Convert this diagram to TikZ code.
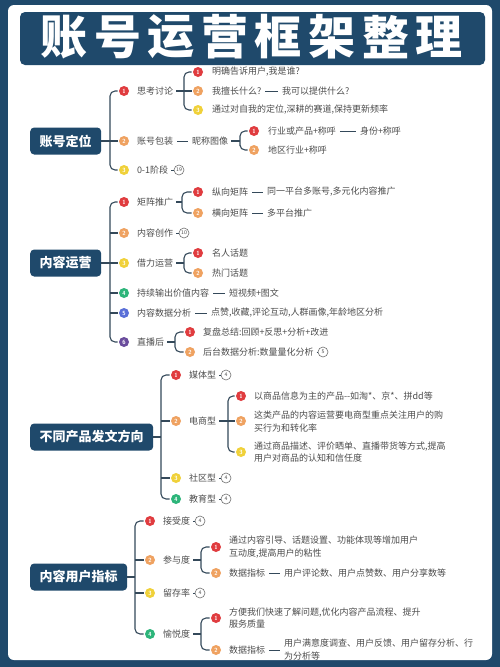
\documentclass[tikz,border=0pt]{standalone}
\usepackage{fontspec}
\newfontfamily\cjk{Noto Sans CJK SC}

\definecolor{navy}{HTML}{1F496B}
\definecolor{linec}{HTML}{34495A}
\definecolor{txt}{HTML}{4D4D4D}
\definecolor{cRed}{HTML}{E03C3F}
\definecolor{cOrg}{HTML}{EFA261}
\definecolor{cYel}{HTML}{F0D13A}
\definecolor{cGrn}{HTML}{2DB57A}
\definecolor{cBlu}{HTML}{5A6FD8}
\definecolor{cPur}{HTML}{6A4C9C}

\tikzset{
    titlech/.style={text=white, font=\cjk\bfseries\fontsize{47}{47}\selectfont, inner sep=0pt},
    mainbox/.style={anchor=west, fill=navy, rounded corners=4pt, text=white,
        font=\cjk\bfseries\fontsize{13}{15}\selectfont, minimum height=27pt, inner xsep=9.5pt},
    item/.style={anchor=west, inner sep=0pt, outer sep=0pt, text=txt,
        font=\cjk\fontsize{9}{12.5}\selectfont, align=left},
    badge/.style={circle, fill=#1, minimum size=10pt, inner sep=0pt, outer sep=1.5pt,
        text=white, font=\sffamily\bfseries\fontsize{6}{6}\selectfont},
    cnum/.style={circle, draw=txt!80, fill=white, line width=0.6pt, minimum size=10pt, inner sep=0pt,
        text=txt, font=\sffamily\fontsize{5.5}{5.5}\selectfont},
    link/.style={draw=linec, line width=1.1pt, rounded corners=5pt},
    dashlink/.style={draw=linec, line width=1pt, shorten <=4pt, shorten >=4pt},
    tie/.style={draw=linec, line width=0.9pt, shorten <=3pt}
}

\begin{document}
\begin{tikzpicture}[x=1pt, y=-1pt]
    \useasboundingbox (0,0) rectangle (500,667);

    % Background and panel
    \fill[navy] (0,0) rectangle (500,667);
    \fill[white, rounded corners=6pt] (8,5) rectangle (492,660);

    % Title
    \fill[navy, rounded corners=5pt] (20,12) rectangle (485,65);
    \foreach \c [count=\i] in {账,号,运,营,框,架,整,理} {
        \node[titlech] (title\i) at ({64+(\i-1)*53.6},37) {\c};
    }

    % ---------------- 账号定位 ----------------
    \node[mainbox] (pos) at (30,141) {账号定位};
    \coordinate (pos-t) at (110,141);
    \node[badge=cRed] (pos1) at (124,91) {1};
    \node[badge=cOrg] (pos2) at (124,141) {2};
    \node[badge=cYel] (pos3) at (124,170) {3};
    \draw[link] (pos1.west) -| (pos-t) |- (pos3.west);
    \draw[link] (pos.east) -- (pos-t) -- (pos2.west);

    \node[item] (think) at (137,91) {思考讨论};
    \node[item] (pack) at (137,141) {账号包装};
    \node[item] (stage) at (137,170) {0-1阶段};
    \node[cnum] (stage-n) at (179,170) {19};
    \draw[tie] (stage) -- (stage-n);

    % 思考讨论
    \coordinate (think-t) at (184,91);
    \node[badge=cRed] (think1) at (198,72) {1};
    \node[badge=cOrg] (think2) at (198,91) {2};
    \node[badge=cYel] (think3) at (198,110) {3};
    \draw[link] (think1.west) -| (think-t) |- (think3.west);
    \draw[link, shorten <=3pt] (think.east) -- (think2.west);
    \node[item] (think1a) at (212,72) {明确告诉用户,我是谁?};
    \node[item] (think2a) at (212,91) {我擅长什么?};
    \node[item] (think2b) at (282,91) {我可以提供什么?};
    \draw[dashlink] (think2a) -- (think2b);
    \node[item] (think3a) at (212,110) {通过对自我的定位,深耕的赛道,保持更新频率};

    % 账号包装
    \node[item] (avatar) at (192,141) {昵称图像};
    \draw[dashlink] (pack) -- (avatar);
    \coordinate (avatar-t) at (240,141);
    \node[badge=cRed] (avatar1) at (254,131) {1};
    \node[badge=cOrg] (avatar2) at (254,150) {2};
    \draw[link] (avatar1.west) -| (avatar-t) |- (avatar2.west);
    \draw[link, shorten <=3pt] (avatar.east) -- (avatar-t);
    \node[item] (avatar1a) at (268,131) {行业或产品+称呼};
    \node[item] (avatar1b) at (360,131) {身份+称呼};
    \draw[dashlink] (avatar1a) -- (avatar1b);
    \node[item] (avatar2a) at (268,150) {地区行业+称呼};

    % ---------------- 内容运营 ----------------
    \node[mainbox] (op) at (30,263) {内容运营};
    \coordinate (op-t) at (110,263);
    \node[badge=cRed] (op1) at (124,202) {1};
    \node[badge=cOrg] (op2) at (124,233) {2};
    \node[badge=cYel] (op3) at (124,263) {3};
    \node[badge=cGrn] (op4) at (124,293) {4};
    \node[badge=cBlu] (op5) at (124,313) {5};
    \node[badge=cPur] (op6) at (124,342) {6};
    \draw[link] (op1.west) -| (op-t) |- (op6.west);
    \draw[link] (op.east) -- (op-t) -- (op3.west);
    \foreach \k in {2,4,5} {
        \draw[link] (op-t |- op\k.west) -- (op\k.west);
    }

    \node[item] (matrix) at (137,202) {矩阵推广};
    \node[item] (create) at (137,233) {内容创作};
    \node[cnum] (create-n) at (184,233) {10};
    \draw[tie] (create) -- (create-n);
    \node[item] (borrow) at (137,263) {借力运营};
    \node[item] (value) at (137,293) {持续输出价值内容};
    \node[item] (value-a) at (229,293) {短视频+图文};
    \draw[dashlink] (value) -- (value-a);
    \node[item] (data) at (137,313) {内容数据分析};
    \node[item] (data-a) at (211,313) {点赞,收藏,评论互动,人群画像,年龄地区分析};
    \draw[dashlink] (data) -- (data-a);
    \node[item] (live) at (137,342) {直播后};

    % 矩阵推广
    \coordinate (matrix-t) at (182,202);
    \node[badge=cRed] (matrix1) at (198,192) {1};
    \node[badge=cOrg] (matrix2) at (198,213) {2};
    \draw[link] (matrix1.west) -| (matrix-t) |- (matrix2.west);
    \draw[link, shorten <=3pt] (matrix.east) -- (matrix-t);
    \node[item] (matrix1a) at (212,192) {纵向矩阵};
    \node[item] (matrix1b) at (267,192) {同一平台多账号,多元化内容推广};
    \draw[dashlink] (matrix1a) -- (matrix1b);
    \node[item] (matrix2a) at (212,213) {横向矩阵};
    \node[item] (matrix2b) at (267,213) {多平台推广};
    \draw[dashlink] (matrix2a) -- (matrix2b);

    % 借力运营
    \coordinate (borrow-t) at (184,263);
    \node[badge=cRed] (borrow1) at (198,253) {1};
    \node[badge=cOrg] (borrow2) at (198,273) {2};
    \draw[link] (borrow1.west) -| (borrow-t) |- (borrow2.west);
    \draw[link, shorten <=3pt] (borrow.east) -- (borrow-t);
    \node[item] (borrow1a) at (212,253) {名人话题};
    \node[item] (borrow2a) at (212,273) {热门话题};

    % 直播后
    \coordinate (live-t) at (175,342);
    \node[badge=cRed] (live1) at (190,332) {1};
    \node[badge=cOrg] (live2) at (190,352) {2};
    \draw[link] (live1.west) -| (live-t) |- (live2.west);
    \draw[link, shorten <=3pt] (live.east) -- (live-t);
    \node[item] (live1a) at (203,332) {复盘总结:回顾+反思+分析+改进};
    \node[item] (live2a) at (203,352) {后台数据分析:数量量化分析};
    \node[cnum] (live2-n) at (323,352) {5};
    \draw[tie] (live2a) -- (live2-n);

    % ---------------- 不同产品发文方向 ----------------
    \node[mainbox] (dir) at (30,437) {不同产品发文方向};
    \coordinate (dir-t) at (161,437);
    \node[badge=cRed] (dir1) at (176,375) {1};
    \node[badge=cOrg] (dir2) at (176,421) {2};
    \node[badge=cYel] (dir3) at (176,478) {3};
    \node[badge=cGrn] (dir4) at (176,499) {4};
    \draw[link] (dir1.west) -| (dir-t) |- (dir4.west);
    \draw[link] (dir.east) -- (dir-t);
    \foreach \k in {2,3} {
        \draw[link] (dir-t |- dir\k.west) -- (dir\k.west);
    }

    \node[item] (media) at (189,375) {媒体型};
    \node[cnum] (media-n) at (226,375) {4};
    \draw[tie] (media) -- (media-n);
    \node[item] (ecom) at (189,421) {电商型};
    \node[item] (social) at (189,478) {社区型};
    \node[cnum] (social-n) at (226,478) {4};
    \draw[tie] (social) -- (social-n);
    \node[item] (edu) at (189,499) {教育型};
    \node[cnum] (edu-n) at (226,499) {4};
    \draw[tie] (edu) -- (edu-n);

    % 电商型
    \coordinate (ecom-t) at (228,421);
    \node[badge=cRed] (ecom1) at (241,396) {1};
    \node[badge=cOrg] (ecom2) at (241,421) {2};
    \node[badge=cYel] (ecom3) at (241,452) {3};
    \draw[link] (ecom1.west) -| (ecom-t) |- (ecom3.west);
    \draw[link, shorten <=3pt] (ecom.east) -- (ecom2.west);
    \node[item] (ecom1a) at (254,396) {以商品信息为主的产品--如淘*、京*、拼dd等};
    \node[item] (ecom2a) at (254,421.5) {这类产品的内容运营要电商型重点关注用户的购\\买行为和转化率};
    \node[item] (ecom3a) at (254,452) {通过商品描述、评价晒单、直播带货等方式,提高\\用户对商品的认知和信任度};

    % ---------------- 内容用户指标 ----------------
    \node[mainbox] (user) at (30,577) {内容用户指标};
    \coordinate (user-t) at (135,577);
    \node[badge=cRed] (user1) at (150,521) {1};
    \node[badge=cOrg] (user2) at (150,560) {2};
    \node[badge=cYel] (user3) at (150,593) {3};
    \node[badge=cGrn] (user4) at (150,634) {4};
    \draw[link] (user1.west) -| (user-t) |- (user4.west);
    \draw[link] (user.east) -- (user-t);
    \foreach \k in {2,3} {
        \draw[link] (user-t |- user\k.west) -- (user\k.west);
    }

    \node[item] (accept) at (163,521) {接受度};
    \node[cnum] (accept-n) at (200,521) {4};
    \draw[tie] (accept) -- (accept-n);
    \node[item] (join) at (163,560) {参与度};
    \node[item] (keep) at (163,593) {留存率};
    \node[cnum] (keep-n) at (200,593) {4};
    \draw[tie] (keep) -- (keep-n);
    \node[item] (joy) at (163,634) {愉悦度};

    % 参与度
    \coordinate (join-t) at (201,560);
    \node[badge=cRed] (join1) at (216,547) {1};
    \node[badge=cOrg] (join2) at (216,573) {2};
    \draw[link] (join1.west) -| (join-t) |- (join2.west);
    \draw[link, shorten <=3pt] (join.east) -- (join-t);
    \node[item] (join1a) at (229,547) {通过内容引导、话题设置、功能体现等增加用户\\互动度,提高用户的粘性};
    \node[item] (join2a) at (229,573) {数据指标};
    \node[item] (join2b) at (284,573) {用户评论数、用户点赞数、用户分享数等};
    \draw[dashlink] (join2a) -- (join2b);

    % 愉悦度
    \coordinate (joy-t) at (201,634);
    \node[badge=cRed] (joy1) at (216,618) {1};
    \node[badge=cOrg] (joy2) at (216,650) {2};
    \draw[link] (joy1.west) -| (joy-t) |- (joy2.west);
    \draw[link, shorten <=3pt] (joy.east) -- (joy-t);
    \node[item] (joy1a) at (229,618) {方便我们快速了解问题,优化内容产品流程、提升\\服务质量};
    \node[item] (joy2a) at (229,650) {数据指标};
    \node[item] (joy2b) at (284,649.5) {用户满意度调查、用户反馈、用户留存分析、行\\为分析等};
    \draw[dashlink] (joy2a) -- (joy2a -| joy2b.west);
\end{tikzpicture}
\end{document}
